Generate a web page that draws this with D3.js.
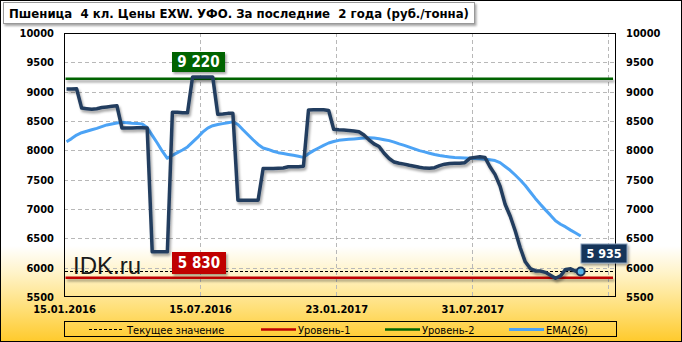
<!DOCTYPE html>
<html><head><meta charset="utf-8">
<script src="https://cdn.jsdelivr.net/npm/d3@7"></script>
<style>
html,body{margin:0;padding:0;background:#fff;}
svg{display:block;}
text{white-space:pre;}
</style></head>
<body>
<script>
// ---- data ----
const title = "Пшеница  4 кл. Цены EXW. УФО. За последние  2 года (руб./тонна)";
const xTickLabels = ["15.01.2016", "15.07.2016", "23.01.2017", "31.07.2017"];
const xTickIndex = [0, 27, 54, 81];
const yTicks = [5500, 6000, 6500, 7000, 7500, 8000, 8500, 9000, 9500, 10000];
const price = [9045,9045,9050,8720,8710,8700,8710,8730,8740,8750,8760,8380,8380,8380,8385,8385,8380,6270,6270,6270,6270,8648,8650,8640,8640,9250,9250,9250,9250,9250,8614,8620,8630,8630,7150,7150,7150,7150,7150,7690,7690,7690,7695,7700,7720,7720,7720,7730,8687,8690,8690,8690,8680,8358,8350,8345,8340,8330,8317,8260,8180,8110,8065,7950,7860,7800,7780,7765,7745,7730,7712,7697,7695,7705,7740,7764,7775,7778,7778,7790,7864,7880,7892,7880,7720,7590,7390,7080,6880,6630,6340,6100,5985,5945,5942,5920,5870,5820,5860,5970,5980,5940,5935];
const ema26 = [8147,8200,8260,8300,8325,8350,8375,8405,8433,8450,8465,8477,8470,8462,8456,8450,8390,8255,8125,7985,7865,7915,7960,8005,8058,8140,8220,8310,8380,8420,8440,8455,8470,8485,8440,8350,8265,8180,8100,8040,8015,7985,7960,7945,7930,7915,7900,7880,7940,7995,8040,8085,8125,8150,8170,8180,8188,8195,8203,8210,8215,8210,8198,8182,8165,8140,8110,8085,8055,8025,7995,7973,7950,7928,7912,7898,7888,7878,7873,7868,7864,7860,7855,7848,7838,7826,7790,7725,7660,7580,7495,7400,7290,7180,7080,6985,6895,6800,6740,6695,6640,6590,6540];
const level1 = 5830;
const level2 = 9220;
const currentValue = 5935;
const legendLabels = ["Текущее значение", "Уровень-1", "Уровень-2", "EMA(26)"];

// ---- layout ----
const W = 682, H = 342;
const plot = {l: 64, r: 616, t: 33, b: 297};
const FONT = "'DejaVu Sans Condensed','DejaVu Sans',sans-serif";

const svg = d3.select("body").append("svg").attr("width", W).attr("height", H)
  .style("font-family", FONT);
const defs = svg.append("defs");
const bg = defs.append("linearGradient").attr("id", "bg").attr("x1", 0).attr("y1", 0).attr("x2", 0).attr("y2", 1);
[[0, "#ffffff"], [0.72, "#ffffff"], [0.8, "#fff3c8"], [0.9, "#ffe07a"], [1, "#ffca2c"]].forEach(([o, c]) =>
  bg.append("stop").attr("offset", o).attr("stop-color", c));
const sh = defs.append("filter").attr("id", "sh").attr("x", "-5%").attr("y", "-20%").attr("width", "115%").attr("height", "160%");
sh.append("feDropShadow").attr("dx", 1.5).attr("dy", 2).attr("stdDeviation", 1).attr("flood-color", "#000").attr("flood-opacity", 0.35);
const shl = defs.append("filter").attr("id", "shl").attr("filterUnits", "userSpaceOnUse").attr("x", 0).attr("y", 0).attr("width", W).attr("height", H);
shl.append("feDropShadow").attr("dx", 1.5).attr("dy", 2.5).attr("stdDeviation", 1).attr("flood-color", "#000").attr("flood-opacity", 0.35);

svg.append("rect").attr("x", 0.5).attr("y", 0.5).attr("width", W - 1).attr("height", H - 1)
  .attr("fill", "url(#bg)").attr("stroke", "#000");

const x = d3.scaleLinear().domain([-0.5, 109]).range([plot.l, plot.r]);
const y = d3.scaleLinear().domain([5500, 10000]).range([plot.b, plot.t]);

// grid
const grid = svg.append("g").attr("stroke", "#b8b8b8").attr("stroke-dasharray", "4,3").attr("stroke-width", 1);
yTicks.filter(v => v > 5500 && v < 10000).forEach(v =>
  grid.append("line").attr("x1", plot.l).attr("x2", plot.r).attr("y1", Math.round(y(v)) + 0.5).attr("y2", Math.round(y(v)) + 0.5));
[27, 54, 81, 108].forEach(i =>
  grid.append("line").attr("y1", plot.t).attr("y2", plot.b).attr("x1", Math.round(x(i - 0.5)) + 0.5).attr("x2", Math.round(x(i - 0.5)) + 0.5));

// axes
const yl = d3.axisLeft(y).tickValues(yTicks).tickSize(0).tickPadding(10).tickFormat(d3.format("d"));
const yr = d3.axisRight(y).tickValues(yTicks).tickSize(0).tickPadding(10).tickFormat(d3.format("d"));
const gl = svg.append("g").attr("transform", `translate(${plot.l},0)`).call(yl);
const gr = svg.append("g").attr("transform", `translate(${plot.r},0)`).call(yr);
[gl, gr].forEach(g => {
  g.select(".domain").remove();
  g.selectAll("text").attr("font-family", FONT).attr("font-size", 11).attr("font-weight", "bold").attr("fill", "#000");
});
const xa = d3.axisBottom(x).tickValues(xTickIndex.map(i => i - 0.5)).tickSize(0).tickPadding(8)
  .tickFormat((d, k) => xTickLabels[k]);
const gx = svg.append("g").attr("transform", `translate(0,${plot.b})`).call(xa);
gx.select(".domain").remove();
gx.selectAll("text").attr("font-family", FONT).attr("font-size", 11).attr("font-weight", "bold").attr("fill", "#000");

// plot border
svg.append("rect").attr("x", plot.l + 0.5).attr("y", plot.t + 0.5).attr("width", plot.r - plot.l - 1).attr("height", plot.b - plot.t - 1)
  .attr("fill", "none").attr("stroke", "#000");

// watermark
svg.append("text").attr("x", 73).attr("y", 274).attr("font-family", "'Liberation Sans',Arial,sans-serif")
  .attr("font-size", 24).attr("fill", "#1a1a1a").text("IDK.ru");

// level lines
const lx1 = x(0) - 1, lx2 = plot.r - 3;
svg.append("line").attr("x1", lx1).attr("x2", lx2).attr("y1", y(level2)).attr("y2", y(level2))
  .attr("stroke", "#006400").attr("stroke-width", 2.5).attr("filter", "url(#shl)");
svg.append("line").attr("x1", lx1).attr("x2", lx2).attr("y1", y(level1)).attr("y2", y(level1))
  .attr("stroke", "#c00000").attr("stroke-width", 2.5).attr("filter", "url(#shl)");
svg.append("line").attr("x1", plot.l + 1).attr("x2", lx2).attr("y1", Math.round(y(currentValue)) + 0.5).attr("y2", Math.round(y(currentValue)) + 0.5)
  .attr("stroke", "#000").attr("stroke-width", 1).attr("stroke-dasharray", "3,2");

// series
const line = d3.line().x((d, i) => x(i)).y(d => y(d));
svg.append("path").datum(ema26).attr("d", line).attr("fill", "none")
  .attr("stroke", "#4ca3f5").attr("stroke-width", 3).attr("stroke-linejoin", "round");
svg.append("path").datum(price).attr("d", line).attr("fill", "none")
  .attr("stroke", "#233d5e").attr("stroke-width", 3.5).attr("stroke-linejoin", "round").attr("filter", "url(#shl)");
const last = price.length - 1;
svg.append("circle").attr("cx", x(last)).attr("cy", y(price[last])).attr("r", 4)
  .attr("fill", "#56b4e9").attr("stroke", "#17345a").attr("stroke-width", 2);

// value labels
function valLabel(cx, top, w, h, fill, txt, fs, stroke) {
  const g = svg.append("g");
  g.append("rect").attr("x", cx - w / 2).attr("y", top).attr("width", w).attr("height", h)
    .attr("fill", fill).attr("stroke", stroke || "none").attr("filter", "url(#sh)");
  g.append("text").attr("x", cx).attr("y", top + h / 2).attr("dy", "0.36em").attr("text-anchor", "middle")
    .attr("font-family", FONT).attr("font-weight", "bold").attr("font-size", fs).attr("fill", "#fff").text(txt);
}
const fmt = v => d3.format(",")(v).replace(/,/g, " ");
valLabel(198.5, 52, 53, 20, "#006400", fmt(level2), 15);
valLabel(199, 252, 54, 22, "#c00000", fmt(level1), 15);
valLabel(604, 244, 46, 19, "#17345a", fmt(currentValue), 12.5, "#8aa0bb");

// title
svg.append("rect").attr("x", 3.5).attr("y", 2.5).attr("width", 471).attr("height", 21)
  .attr("fill", "#fff").attr("stroke", "#999").attr("filter", "url(#sh)");
svg.append("text").attr("x", 9).attr("y", 18).attr("font-family", FONT).attr("font-weight", "bold")
  .attr("font-size", 12.5).attr("textLength", 460).attr("lengthAdjust", "spacingAndGlyphs").attr("fill", "#000").text(title);

// legend
svg.append("rect").attr("x", 64.5).attr("y", 321.5).attr("width", 552).attr("height", 15)
  .attr("fill", "none").attr("stroke", "#000");
const legItems = [
  {x1: 89, x2: 123, tx: 127, color: "#000", w: 1, dash: "3,2"},
  {x1: 261, x2: 296, tx: 298, color: "#c00000", w: 2.5},
  {x1: 385, x2: 420, tx: 422, color: "#006400", w: 2.5},
  {x1: 509, x2: 544, tx: 546, color: "#4ca3f5", w: 3}
];
legItems.forEach((it, k) => {
  svg.append("line").attr("x1", it.x1).attr("x2", it.x2).attr("y1", 329.5).attr("y2", 329.5)
    .attr("stroke", it.color).attr("stroke-width", it.w).attr("stroke-dasharray", it.dash || null);
  svg.append("text").attr("x", it.tx).attr("y", 333.5).attr("font-family", FONT).attr("font-size", 11)
    .attr("fill", "#000").text(legendLabels[k]);
});
</script>
</body></html>
